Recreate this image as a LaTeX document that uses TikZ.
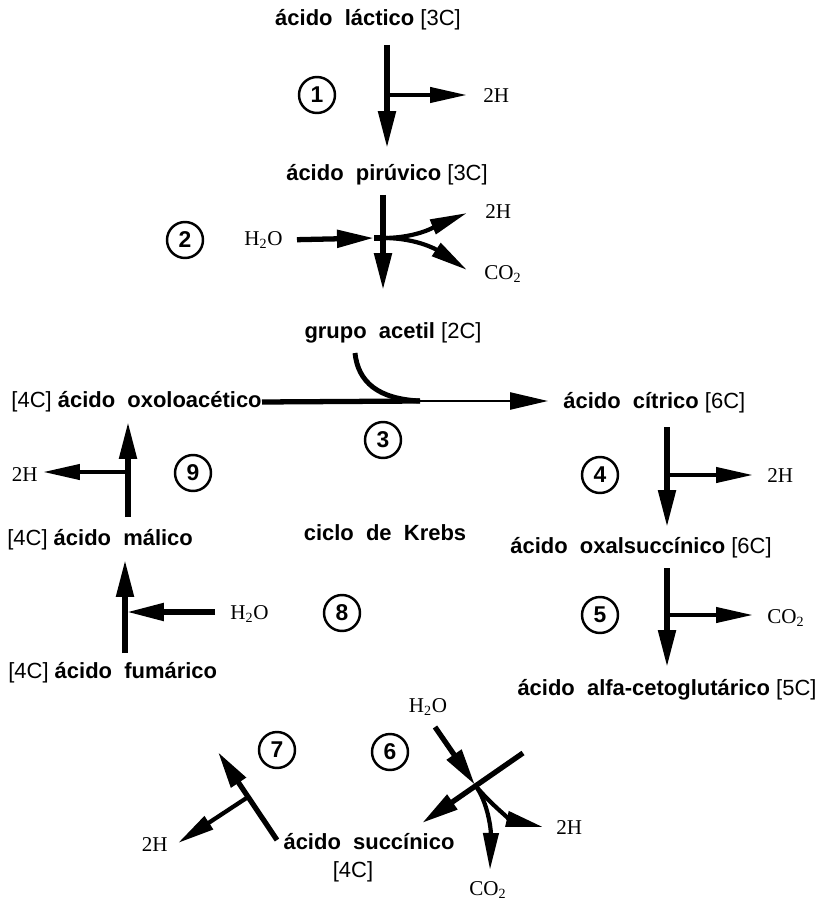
\documentclass[tikz,border=0pt]{standalone}
\usepackage{fontspec}
\setmainfont{Liberation Serif}
\setsansfont{Liberation Sans}
\usepackage{tikz}
\usetikzlibrary{
    arrows.meta
}
\newcommand{\carb}[1]{{\mdseries[#1]}}
\tikzstyle{compound} = [
    font=\sffamily\bfseries\fontsize{12.5}{15}\selectfont,
    inner sep=0pt
]
\tikzstyle{product} = [
    font=\rmfamily\fontsize{12}{14}\selectfont,
    inner sep=0pt
]
\tikzstyle{stepnum} = [
    circle,
    draw=black,
    line width=1.4pt,
    minimum size=0.72cm,
    inner sep=0pt,
    font=\sffamily\bfseries\fontsize{13}{15}\selectfont
]
\tikzstyle{mainarrow} = [
    line width=3pt,
    -{Triangle[length=7.4mm,width=3.4mm]}
]
\tikzstyle{sidearrow} = [
    line width=2.4pt,
    -{Triangle[length=7.4mm,width=3mm]}
]
\tikzstyle{thinarrow} = [
    line width=1.4pt,
    -{Triangle[length=7.6mm,width=3.4mm]}
]
\tikzstyle{bar} = [
    line width=3pt
]

\begin{document}
\begin{tikzpicture}[x=0.02cm, y=-0.02cm]
        \useasboundingbox (0,0) rectangle (823,905);

        % Compounds
        \node[compound] (lactico) at (368,20) {ácido \ láctico \carb{3C}};
        \node[compound] (piruvico) at (387,175) {ácido \ pirúvico \carb{3C}};
        \node[compound] (acetil) at (393,333) {grupo \ acetil \carb{2C}};
        \node[compound, anchor=east] (oxolo) at (262,402) {\carb{4C} ácido \ oxoloacético};
        \node[compound, anchor=west] (citrico) at (563,403) {ácido \ cítrico \carb{6C}};
        \node[compound] (oxalsuc) at (641,548) {ácido \ oxalsuccínico \carb{6C}};
        \node[compound] (alfa) at (667,690) {ácido \ alfa-cetoglutárico \carb{5C}};
        \node[compound] (succinico) at (369,842) {ácido \ succínico};
        \node[compound] (succ4c) at (353,872) {\carb{4C}};
        \node[compound, anchor=west] (fumarico) at (8,673) {\carb{4C} ácido \ fumárico};
        \node[compound, anchor=west] (malico) at (7,540) {\carb{4C} ácido \ málico};
        \node[compound] (krebs) at (385,533) {ciclo \ de \ Krebs};

        % Step numbers
        \node[stepnum] (n1) at (317,95) {1};
        \node[stepnum] (n2) at (185,240) {2};
        \node[stepnum] (n3) at (383,440) {3};
        \node[stepnum] (n4) at (600,475) {4};
        \node[stepnum] (n5) at (600,615) {5};
        \node[stepnum] (n6) at (390,752) {6};
        \node[stepnum] (n7) at (277,750) {7};
        \node[stepnum] (n8) at (342,613) {8};
        \node[stepnum] (n9) at (193,473) {9};

        % Step 1
        \coordinate (a1) at (387,45);
        \coordinate (b1) at (387,95);
        \coordinate (c1) at (387,148);
        \node[product, anchor=west] (h1) at (483,96) {2H};
        \draw[mainarrow] (a1) -- (c1);
        \draw[sidearrow] (b1) -- (467,95) coordinate (t1);

        % Step 2
        \coordinate (a2) at (383,195);
        \coordinate (b2) at (383,238);
        \coordinate (c2) at (383,290);
        \coordinate (m2) at (374,238);
        \node[product, anchor=east] (w2) at (283,240) {H\textsubscript{2}O};
        \node[product, anchor=west] (h2) at (485,212) {2H};
        \node[product, anchor=west] (k2) at (484,274) {CO\textsubscript{2}};
        \coordinate (t2h) at (467,213);
        \coordinate (t2c) at (467,270);
        \draw[mainarrow] (a2) -- (c2);
        \draw[mainarrow, shorten <=0.28cm] (w2.east) -- (m2);
        \draw[bar] (m2) -- (b2);
        \draw[sidearrow] (b2) .. controls (420,238) and (440,224) .. (t2h);
        \draw[sidearrow] (b2) .. controls (420,238) and (440,252) .. (t2c);

        % Step 3
        \coordinate (s3) at (355,353);
        \coordinate (m3) at (420,401);
        \draw[line width=2.8pt] (s3) .. controls (358,382) and (378,399) .. (m3);
        \draw[bar] (oxolo.east) -- (m3);
        \draw[thinarrow, shorten >=0.3cm] (m3) -- (citrico.west |- m3);

        % Step 4
        \coordinate (a4) at (667,427);
        \coordinate (b4) at (667,475);
        \coordinate (c4) at (667,527);
        \node[product, anchor=west] (h4) at (767,476) {2H};
        \draw[mainarrow] (a4) -- (c4);
        \draw[sidearrow, shorten >=0.28cm] (b4) -- (h4.west |- b4);

        % Step 5
        \coordinate (a5) at (667,568);
        \coordinate (b5) at (667,615);
        \coordinate (c5) at (667,667);
        \node[product, anchor=west] (k5) at (767,618) {CO\textsubscript{2}};
        \draw[mainarrow] (a5) -- (c5);
        \draw[sidearrow, shorten >=0.28cm] (b5) -- (k5.west |- b5);

        % Step 6
        \node[product] (w6) at (428,707) {H\textsubscript{2}O};
        \node[product, anchor=west] (h6) at (556,828) {2H};
        \node[product] (k6) at (488,890) {CO\textsubscript{2}};
        \coordinate (s6) at (435,727);
        \coordinate (j6) at (475,785);
        \coordinate (r6) at (523,753);
        \coordinate (t6s) at (422,823);
        \coordinate (t6h) at (543,827);
        \coordinate (t6c) at (490,870);
        \draw[mainarrow] (s6) -- (j6);
        \draw[mainarrow] (r6) -- (t6s);
        \draw[sidearrow] (j6) .. controls (492,806) and (512,820) .. (t6h);
        \draw[sidearrow] (j6) .. controls (488,802) and (491,830) .. (t6c);

        % Step 7
        \coordinate (s7) at (277,840);
        \coordinate (j7) at (248,797);
        \coordinate (t7) at (218,752);
        \coordinate (t7h) at (178,843);
        \node[product, anchor=east] (h7) at (168,845) {2H};
        \draw[mainarrow] (s7) -- (t7);
        \draw[sidearrow] (j7) -- (t7h);

        % Step 8
        \coordinate (s8) at (125,653);
        \coordinate (t8) at (125,560);
        \coordinate (j8) at (127,612);
        \node[product, anchor=west] (w8) at (230,614) {H\textsubscript{2}O};
        \draw[mainarrow] (s8) -- (t8);
        \draw[mainarrow, shorten <=0.3cm] (w8.west |- j8) -- (j8);

        % Step 9
        \coordinate (s9) at (128,517);
        \coordinate (t9) at (128,422);
        \coordinate (j9) at (128,472);
        \node[product, anchor=east] (h9) at (38,475) {2H};
        \draw[mainarrow] (s9) -- (t9);
        \draw[sidearrow, shorten >=0.1cm] (j9) -- (h9.east |- j9);
    \end{tikzpicture}
\end{document}
